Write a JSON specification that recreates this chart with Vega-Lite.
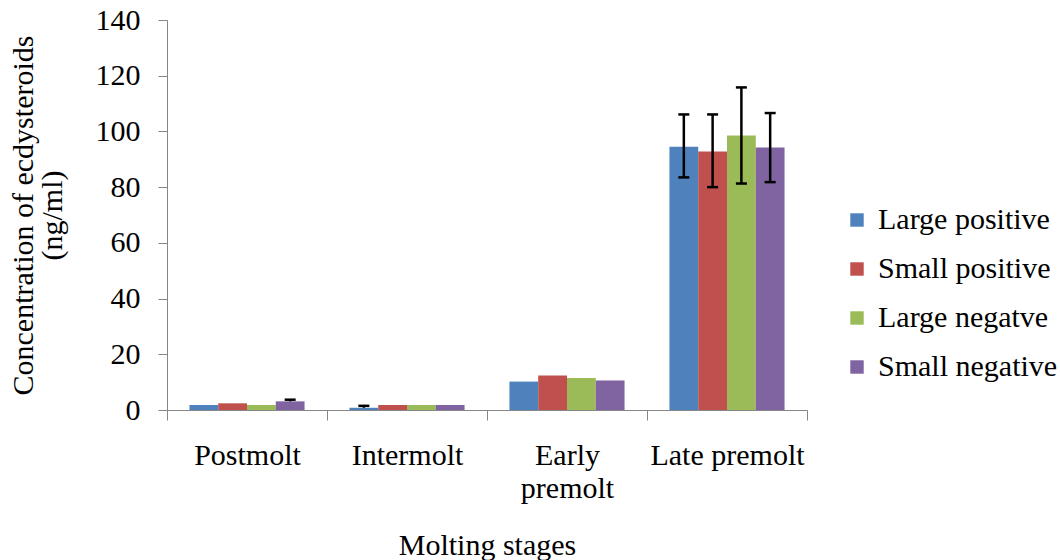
{
  "$schema": "https://vega.github.io/schema/vega-lite/v6.json",
  "width": 640,
  "height": 390,
  "autosize": {"type": "none"},
  "padding": {"left": 167, "top": 20, "right": 253, "bottom": 150},
  "background": "white",
  "config": {
    "view": {"stroke": null},
    "font": "'Liberation Serif', 'Times New Roman', serif",
    "text": {"font": "'Liberation Serif', 'Times New Roman', serif"},
    "axis": {"labelFont": "'Liberation Serif', 'Times New Roman', serif", "titleFont": "'Liberation Serif', 'Times New Roman', serif", "labelColor": "black", "titleColor": "black", "titleFontWeight": "normal", "domainColor": "#868686", "tickColor": "#868686", "grid": false},
    "legend": {"labelFont": "'Liberation Serif', 'Times New Roman', serif", "labelLimit": 400}
  },
  "data": {
    "values": [
      {"stage": "Postmolt", "group": "Large positive", "value": 1.8, "lo": null, "hi": null},
      {"stage": "Postmolt", "group": "Small positive", "value": 2.4, "lo": null, "hi": null},
      {"stage": "Postmolt", "group": "Large negatve", "value": 1.8, "lo": null, "hi": null},
      {"stage": "Postmolt", "group": "Small negative", "value": 3.1, "lo": 3.1, "hi": 3.7},
      {"stage": "Intermolt", "group": "Large positive", "value": 0.8, "lo": 0.8, "hi": 1.5},
      {"stage": "Intermolt", "group": "Small positive", "value": 1.8, "lo": null, "hi": null},
      {"stage": "Intermolt", "group": "Large negatve", "value": 1.8, "lo": null, "hi": null},
      {"stage": "Intermolt", "group": "Small negative", "value": 1.8, "lo": null, "hi": null},
      {"stage": "Early premolt", "group": "Large positive", "value": 10.2, "lo": null, "hi": null},
      {"stage": "Early premolt", "group": "Small positive", "value": 12.4, "lo": null, "hi": null},
      {"stage": "Early premolt", "group": "Large negatve", "value": 11.5, "lo": null, "hi": null},
      {"stage": "Early premolt", "group": "Small negative", "value": 10.6, "lo": null, "hi": null},
      {"stage": "Late premolt", "group": "Large positive", "value": 94.5, "lo": 83.5, "hi": 106.1},
      {"stage": "Late premolt", "group": "Small positive", "value": 92.8, "lo": 80.0, "hi": 106.1},
      {"stage": "Late premolt", "group": "Large negatve", "value": 98.5, "lo": 81.3, "hi": 115.8},
      {"stage": "Late premolt", "group": "Small negative", "value": 94.2, "lo": 81.8, "hi": 106.6}
    ]
  },
  "encoding": {
    "x": {
      "field": "stage", "type": "nominal",
      "sort": ["Postmolt", "Intermolt", "Early premolt", "Late premolt"],
      "scale": {"paddingInner": 0, "paddingOuter": 0},
      "axis": {
        "title": "Molting stages", "titleFontSize": 30, "titlePadding": 27,
        "labelAngle": 0, "labelFontSize": 30, "labelPadding": 20, "labelLineHeight": 33,
        "labelExpr": "datum.value == 'Early premolt' ? ['Early', 'premolt'] : datum.value",
        "tickBand": "extent", "tickSize": 10, "labelBaseline": "top"
      }
    },
    "xOffset": {
      "field": "group", "type": "nominal",
      "sort": ["Large positive", "Small positive", "Large negatve", "Small negative"],
      "scale": {"paddingInner": 0, "paddingOuter": 0.78}
    }
  },
  "layer": [
    {
      "mark": {"type": "bar"},
      "encoding": {
        "y": {
          "field": "value", "type": "quantitative",
          "scale": {"domain": [0, 140]},
          "axis": {
            "values": [0, 20, 40, 60, 80, 100, 120, 140],
            "title": ["Concentration of ecdysteroids", "(ng/ml)"],
            "titleFontSize": 30, "titleLineHeight": 29, "titlePadding": 28,
            "labelFontSize": 30, "labelPadding": 18, "tickSize": 9
          }
        },
        "color": {
          "field": "group", "type": "nominal",
          "sort": ["Large positive", "Small positive", "Large negatve", "Small negative"],
          "scale": {"domain": ["Large positive", "Small positive", "Large negatve", "Small negative"], "range": ["#4F81BD", "#C0504D", "#9BBB59", "#8064A2"]},
          "legend": {
            "title": null, "orient": "none", "legendX": 675, "legendY": 185,
            "symbolType": "square", "symbolSize": 180, "symbolStrokeWidth": 0,
            "labelFontSize": 30, "labelColor": "black", "labelLimit": 400,
            "labelOffset": 6, "rowPadding": 19
          }
        }
      }
    },
    {
      "transform": [{"filter": "datum.hi != null"}],
      "mark": {"type": "rule", "color": "black", "strokeWidth": 2.5},
      "encoding": {
        "y": {"field": "lo", "type": "quantitative"},
        "y2": {"field": "hi"}
      }
    },
    {
      "transform": [{"filter": "datum.hi != null"}],
      "mark": {"type": "tick", "color": "black", "thickness": 2.5, "size": 11, "opacity": 1},
      "encoding": {
        "y": {"field": "hi", "type": "quantitative"}
      }
    },
    {
      "transform": [{"filter": "datum.hi != null && datum.lo != datum.value"}],
      "mark": {"type": "tick", "color": "black", "thickness": 2.5, "size": 11, "opacity": 1},
      "encoding": {
        "y": {"field": "lo", "type": "quantitative"}
      }
    }
  ]
}
